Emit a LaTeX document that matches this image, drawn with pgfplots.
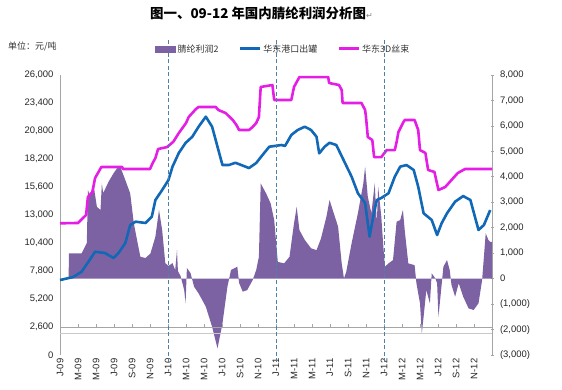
\documentclass[border=0pt]{standalone}
\usepackage{fontspec}
\setmainfont{Liberation Sans}
\newfontfamily\cjk{Noto Sans CJK SC}
\newfontfamily\djv{DejaVu Sans}
\usepackage{pgfplots}
\pgfplotsset{compat=1.18}
\definecolor{purp}{RGB}{125,98,163}
\definecolor{blu}{RGB}{16,104,182}
\definecolor{mag}{RGB}{228,30,228}
\definecolor{dsh}{RGB}{80,128,168}
\definecolor{axg}{RGB}{165,165,165}
\pgfplotsset{linelegend/.style={legend image code/.code={\draw[##1,line width=3bp](0bp,0bp)--(20bp,0bp);}}}
\begin{document}
\begin{tikzpicture}[x=1bp,y=1bp]
\useasboundingbox (0,0) rectangle (562,-389);
\pgfplotsset{base/.style={width=432bp,height=280bp,scale only axis,at={(60bp,-355bp)},anchor=south west,xmin=0,xmax=48,
  scaled ticks=false,
  /pgf/number format/assume math mode=true,
  tick label style={font=\fontsize{9.5}{10}\selectfont, text=black!85}}}
% right scale: profit area
\begin{axis}[base, ymin=-3000, ymax=8000, axis x line=none, axis y line*=right,
  y axis line style={axg, line width=0.8bp},
  ytick={-3000,-2000,-1000,0,1000,2000,3000,4000,5000,6000,7000,8000},
  yticklabels={{(3,000)},{(2,000)},{(1,000)},0,{1,000},{2,000},{3,000},{4,000},{5,000},{6,000},{7,000},{8,000}},
  major tick length=3bp, tick align=center, tick style={axg, line width=0.8bp},
  yticklabel style={xshift=3bp}]
\addplot[fill=purp, draw=none] coordinates {
(0,0) (0.95,0) (1.0,990) (2.4,990) (2.98,1400) (3.1,3480) (3.35,3250) (3.7,3740) (4.1,2820) (4.5,2700) (4.65,3740) (4.8,3360) (5.4,3810) (5.95,4140) (6.33,4330) (6.7,4400) (7.26,3870) (7.8,3350) (8.2,2180) (8.56,1520) (8.93,860) (9.5,810) (10.05,990) (10.6,1650) (11.0,2700) (11.35,1910) (11.7,610) (12.05,500) (12.5,610) (12.8,340) (13.0,1120) (13.1,300) (13.4,100) (13.8,-450) (13.95,-960) (14.1,420) (14.5,220) (14.9,-320) (15.4,-580) (16.2,-1100) (16.9,-1890) (17.5,-2740) (18.05,-1760) (18.6,-320) (19.0,340) (19.7,470) (19.9,-170) (20.3,-510) (20.8,-450) (21.4,-60) (21.8,340) (22.1,860) (22.3,3740) (22.9,3350) (23.4,2960) (23.8,2300) (24.2,660) (24.9,600) (25.5,860) (26.0,2170) (26.3,2820) (26.6,1910) (27.2,1520) (27.9,1190) (28.5,1120) (29.0,1580) (29.6,2430) (29.95,3090) (30.3,2700) (30.9,2040) (31.3,600) (31.55,10) (31.8,260) (32.4,1390) (33.1,2570) (33.7,3740) (33.9,4400) (34.2,3220) (34.6,2570) (34.97,3740) (35.2,2180) (35.35,3610) (35.7,2430) (35.9,1390) (36.1,470) (36.5,600) (37.0,730) (37.4,2240) (37.8,2300) (38.1,2700) (38.3,1910) (38.7,600) (39.4,530) (39.6,-180) (40.0,-970) (40.2,-2150) (40.4,-1500) (40.7,-450) (41.1,-970) (41.3,210) (41.7,10) (41.9,-180) (42.05,-1500) (42.2,-970) (42.6,470) (43.0,730) (43.3,340) (43.5,-250) (43.9,-710) (44.3,-180) (44.8,-710) (45.4,-1170) (45.96,-1230) (46.5,-970) (46.9,-60) (47.3,1780) (47.6,1520) (47.8,1440) (48,1440) (48,0)
} \closedcycle;
\end{axis}
% left scale: prices
\begin{axis}[base, ymin=0, ymax=26000, axis y line*=left, axis x line*=bottom,
  x axis line style={draw=none}, y axis line style={axg, line width=0.8bp},
  ytick={0,2600,5200,7800,10400,13000,15600,18200,20800,23400,26000},
  yticklabel style={/pgf/number format/1000 sep={,}, /pgf/number format/fixed, xshift=-3bp},
  major tick length=0pt,
  xtick={0,2,...,46},
  xticklabels={J-09,M-09,M-09,J-09,S-09,N-09,J-10,M-10,M-10,J-10,S-10,N-10,J-11,M-11,M-11,J-11,S-11,N-11,J-12,M-12,M-12,J-12,S-12,N-12},
  xticklabel style={rotate=90, anchor=east, yshift=0bp},
  clip=false,
  legend style={at={(0.22,1.093)}, anchor=west, draw=none, fill=none, inner sep=0pt,
    font=\cjk\fontsize{9}{10}\selectfont, text=black!80,
    /tikz/every even column/.append style={column sep=18bp}},
  legend columns=3, legend cell align=left]
\addlegendimage{legend image code/.code={\fill[purp] (0bp,-3bp) rectangle (20bp,3bp);}}
\addlegendentry{腈纶利润2}
\draw[axg!60, line width=0.5bp] (axis cs:0,2000) -- (axis cs:48,2000);
\draw[axg, line width=0.8bp] (axis cs:0,2600) -- (axis cs:48,2600);
\pgfplotsinvokeforeach{2,4,...,46}{\draw[axg, line width=0.7bp] (axis cs:#1,2600) -- ++(0,3bp);}
\addplot[blu, line width=2.6bp, line join=round, linelegend] coordinates {
(0,6960) (1.45,7240) (2.4,7730) (3.16,8660) (3.9,9590) (5.0,9470) (5.95,9010) (6.5,9470) (7.26,10400) (7.8,12070) (8.4,12380) (9.5,12260) (10.2,12840) (10.6,14390) (11.35,15320) (12.05,16250) (12.5,17490) (13.2,18760) (13.95,19690) (14.7,20270) (15.4,21200) (16.2,22130) (16.9,21200) (17.5,19340) (18.05,17640) (18.75,17640) (19.5,17850) (21.0,17360) (21.8,17830) (22.5,18570) (23.25,19340) (24.6,19500) (25.0,19410) (25.7,20430) (26.4,20890) (27.2,21200) (27.9,20890) (28.5,20270) (28.8,18730) (29.4,19340) (29.95,19710) (30.7,19500) (31.4,18290) (32.4,16560) (33.1,15020) (33.9,14110) (34.4,10990) (34.8,12840) (35.2,14390) (35.7,14580) (36.5,15020) (37.2,16560) (37.8,17490) (38.5,17640) (39.3,17180) (39.8,15630) (40.4,13160) (41.3,12540) (41.9,11140) (42.4,12230) (43.0,13160) (43.9,14240) (44.8,14760) (45.6,14390) (46.1,12840) (46.5,11610) (47.1,12070) (47.8,13460)
};
\addlegendentry{华东港口出罐}
\addplot[mag, line width=2.6bp, line join=round, linelegend] coordinates {
(0,12230) (2.0,12260) (2.9,13000) (3.1,14670) (3.6,15140) (3.9,16440) (4.6,17460) (6.9,17460) (7.0,17270) (10.0,17270) (10.3,17830) (10.6,18290) (10.9,19130) (11.9,19310) (12.6,19810) (13.2,20610) (14.0,21540) (14.3,22100) (15.1,22840) (15.4,23030) (17.3,23030) (17.6,22750) (18.4,22470) (19.2,21820) (19.6,21360) (19.9,20890) (21.0,20890) (21.4,21170) (21.8,21540) (22.1,22100) (22.3,24890) (23.6,25070) (23.8,23680) (25.7,23680) (26.0,24890) (26.6,25810) (29.8,25810) (29.9,25260) (31.0,25070) (31.3,24610) (31.4,23400) (33.5,23400) (33.9,22750) (34.0,22100) (34.2,20240) (34.7,19960) (34.9,18380) (35.7,18380) (36.3,19030) (37.2,19030) (37.4,19780) (37.6,20700) (38.1,21540) (38.3,21820) (39.4,21820) (39.8,20890) (40.0,19030) (40.6,18760) (40.9,17180) (41.6,17000) (42.05,15320) (42.8,15600) (43.5,16250) (44.2,16900) (45.0,17270) (48.0,17270)
};
\addlegendentry{华东3D丝束}
\pgfplotsinvokeforeach{12,24,36}{\draw[dsh, line width=0.9bp, dash pattern=on 4bp off 2.5bp] (axis cs:#1,-650) -- (axis cs:#1,29440);}
\end{axis}
\node[anchor=west, inner sep=0pt] at (150,-13) {\cjk\bfseries\fontsize{13.5}{14}\selectfont 图一、09-12 年国内腈纶利润分析图{\djv\mdseries\color{gray}\fontsize{8}{8}\selectfont ↵}};
\node[anchor=west, inner sep=0pt, text=black!80] at (8,-47) {\cjk\fontsize{9}{10}\selectfont 单位：元/吨};
\end{tikzpicture}
\end{document}
